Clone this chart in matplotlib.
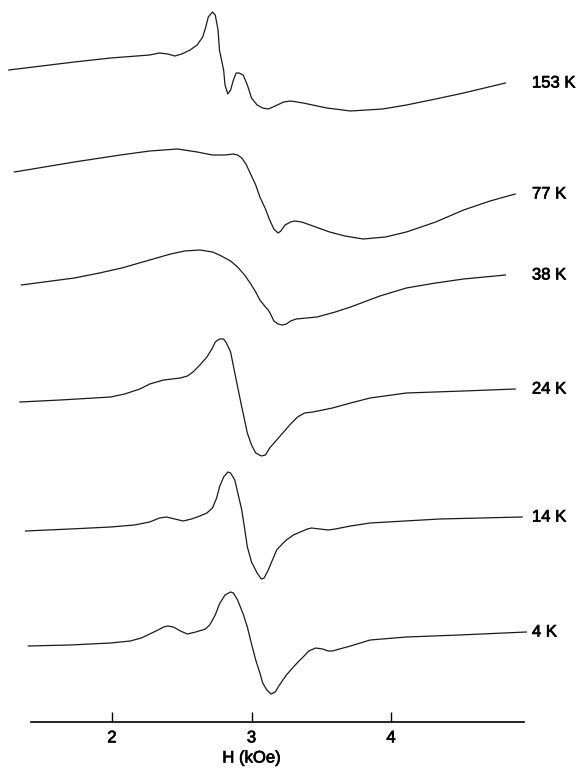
import numpy as np
import matplotlib
matplotlib.use("Agg")
import matplotlib.pyplot as plt
import matplotlib.patheffects as pe

plt.rcParams['font.family'] = ['Liberation Sans', 'DejaVu Sans']

# field (kOe) and derivative signal (arb. units)
h_153 = [1.26, 1.73, 1.99, 2.27, 2.34, 2.40, 2.45, 2.50, 2.56, 2.61, 2.65, 2.67, 2.69, 2.72, 2.74,
         2.76, 2.77, 2.80, 2.81, 2.83, 2.85, 2.87, 2.89, 2.91, 2.94, 2.97, 3.00, 3.04, 3.08, 3.12,
         3.17, 3.23, 3.28, 3.37, 3.54, 3.71, 3.94, 4.11, 4.32, 4.52, 4.67, 4.82]
s_153 = [13, 21, 25, 28, 30, 29, 27, 29, 33, 38, 46, 55, 66, 71, 68,
         53, 33, 13, -2, -11, -7, 3, 10, 10, 8, -2, -15, -22, -25, -26,
         -23, -19, -18, -20, -25, -28, -26, -22, -16, -10, -5, 0]

h_77 = [1.30, 1.73, 2.06, 2.27, 2.47, 2.61, 2.72, 2.81, 2.87, 2.90, 2.93, 2.96, 2.99, 3.03, 3.06,
        3.10, 3.13, 3.16, 3.19, 3.21, 3.24, 3.28, 3.31, 3.36, 3.42, 3.56, 3.67, 3.80, 3.96, 4.11,
        4.32, 4.52, 4.71, 4.89]
s_77 = [22, 32, 39, 43, 45, 42, 39, 39, 40, 39, 36, 30, 21, 9, -3,
        -15, -26, -35, -39, -37, -31, -28, -27, -28, -31, -38, -42, -45, -43, -38,
        -28, -16, -7, 0]

h_38 = [1.35, 1.73, 1.91, 2.07, 2.27, 2.42, 2.52, 2.63, 2.72, 2.77, 2.85, 2.90, 2.95, 2.99, 3.03,
        3.06, 3.10, 3.12, 3.14, 3.16, 3.19, 3.22, 3.25, 3.28, 3.32, 3.47, 3.60, 3.71, 3.92, 4.11,
        4.32, 4.52, 4.82]
s_38 = [-10, -3, 2, 7, 15, 21, 24, 25, 23, 20, 14, 8, 0, -8, -17,
        -25, -32, -35, -40, -46, -49, -50, -49, -46, -44, -42, -37, -32, -21, -13,
        -8, -4, 0]

h_24 = [1.34, 1.63, 1.99, 2.09, 2.20, 2.27, 2.37, 2.43, 2.49, 2.54, 2.58, 2.63, 2.68, 2.72, 2.74,
        2.77, 2.80, 2.82, 2.85, 2.88, 2.93, 2.97, 3.00, 3.03, 3.07, 3.10, 3.13, 3.18, 3.23, 3.28,
        3.33, 3.38, 3.44, 3.58, 3.71, 3.85, 4.11, 4.52, 4.89]
s_24 = [-13, -11, -8, -5, 0, 5, 9, 10, 11, 13, 17, 24, 32, 41, 47,
        50, 50, 46, 37, 16, -18, -44, -56, -64, -67, -66, -59, -51, -43, -35,
        -28, -24, -23, -19, -14, -9, -4, -2, 0]

h_14 = [1.38, 1.70, 1.99, 2.16, 2.27, 2.34, 2.39, 2.45, 2.51, 2.57, 2.63, 2.68, 2.72, 2.75, 2.77,
        2.80, 2.83, 2.85, 2.88, 2.90, 2.93, 2.95, 2.97, 3.00, 3.04, 3.07, 3.09, 3.12, 3.15, 3.18,
        3.22, 3.25, 3.30, 3.35, 3.40, 3.43, 3.49, 3.55, 3.60, 3.71, 3.85, 4.35, 4.94]
s_14 = [-14, -12, -10, -8, -5, -1, 0, -2, -4, -2, 1, 4, 9, 19, 30,
        40, 45, 44, 37, 25, 7, -11, -30, -45, -56, -62, -61, -53, -43, -33,
        -27, -23, -18, -15, -12, -11, -12, -13, -12, -9, -6, -2, 0]

h_4 = [1.40, 1.70, 1.99, 2.13, 2.21, 2.27, 2.33, 2.37, 2.40, 2.44, 2.49, 2.54, 2.60, 2.67, 2.70,
       2.74, 2.77, 2.81, 2.85, 2.87, 2.90, 2.94, 2.97, 3.00, 3.03, 3.06, 3.08, 3.11, 3.14, 3.17,
       3.20, 3.25, 3.30, 3.34, 3.37, 3.41, 3.46, 3.51, 3.55, 3.58, 3.63, 3.71, 3.78, 3.85, 4.11,
       4.49, 4.97]
s_4 = [-14, -13, -11, -9, -6, -2, 2, 5, 6, 5, 1, -2, 0, 3, 7,
       17, 28, 37, 40, 39, 32, 18, 5, -12, -28, -41, -51, -58, -62, -60,
       -53, -43, -35, -29, -25, -19, -16, -17, -19, -19, -17, -14, -11, -8, -5,
       -3, 0]

temps = ['153 K', '77 K', '38 K', '24 K', '14 K', '4 K']
fields = [h_153, h_77, h_38, h_24, h_14, h_4]
signals = [s_153, s_77, s_38, s_24, s_14, s_4]
offsets = [685, 574, 493, 379, 251, 136]

fig = plt.figure(figsize=(5.77, 7.68), dpi=100)
ax = fig.add_axes([0, 0, 1, 1])
ax.set_xlim(1.197, 5.333)
ax.set_ylim(0, 768)

bold = [pe.withStroke(linewidth=0.5, foreground='black')]

for t, h, s, off in zip(temps, fields, signals, offsets):
    y = np.array(s) + off
    ax.plot(h, y, color='#1a1a1a', lw=0.9, solid_joinstyle='round')
    ax.text(5.01, y[-1], t, fontsize=12, va='center', ha='left', path_effects=bold)

# bottom axis drawn as a floating spine
for side in ['top', 'left', 'right']:
    ax.spines[side].set_visible(False)
ax.spines['bottom'].set_position(('data', 46))
ax.spines['bottom'].set_bounds(1.42, 4.95)
ax.spines['bottom'].set_linewidth(1.2)
ax.set_xticks([2, 3, 4])
ax.set_xticklabels(['2', '3', '4'])
ax.tick_params(axis='x', direction='in', length=7, width=1.0, pad=6, labelsize=12)
for lab in ax.get_xticklabels():
    lab.set_path_effects(bold)
ax.set_yticks([])
ax.text(3.0, 10, 'H (kOe)', fontsize=12, ha='center', va='center', path_effects=bold)

fig.savefig('out.png', dpi=100)
